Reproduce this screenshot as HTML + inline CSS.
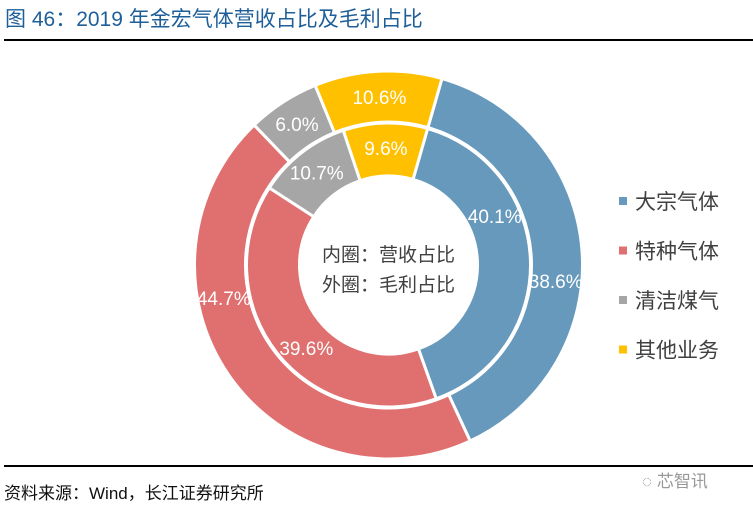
<!DOCTYPE html>
<html><head><meta charset="utf-8">
<style>
body{margin:0;background:#fff;width:753px;height:505px;overflow:hidden;position:relative;font-family:"Liberation Sans","Noto Sans CJK SC",sans-serif;}
.title{position:absolute;left:5px;top:3px;font-size:21px;color:#1f5f99;white-space:nowrap;}
.rule{position:absolute;left:4px;right:0;height:2px;background:#000;}
.src{position:absolute;left:4px;top:479px;font-size:17px;color:#111;white-space:nowrap;}
.wm{position:absolute;left:642px;top:467px;font-size:17px;color:#999;}
</style></head>
<body>
<div class="title">图 46：2019 年金宏气体营收占比及毛利占比</div>
<div class="rule" style="top:39px"></div>
<svg id="chart" width="753" height="505" style="position:absolute;left:0;top:0"></svg>
<div class="rule" style="top:465px"></div>
<div class="src">资料来源：Wind，长江证券研究所</div>
<div class="wm">◌ 芯智讯</div>
<script>
const categories = ["大宗气体","特种气体","清洁煤气","其他业务"];
const innerValues = [40.1, 39.6, 10.7, 9.6];
const outerValues = [38.6, 44.7, 6.0, 10.6];
const colors = ["#6699bb","#e07070","#a6a6a6","#ffc000"];
const innerShift=[-23,-7,0,0], outerShift=[10,23,0,0];
const NS="http://www.w3.org/2000/svg";
const svg=document.getElementById('chart');
const cx=388.5, cy=265, startDeg=16;
function pt(r,deg){const a=deg*Math.PI/180;return [cx+r*Math.sin(a), cy-r*Math.cos(a)];}
function ring(vals,r0,r1,name,labR,shift){
  const tot=vals.reduce((a,b)=>a+b,0);let ang=startDeg;
  vals.forEach((v,i)=>{
    const span=v/tot*360, a1=ang+span;
    const [x0,y0]=pt(r1,ang),[x1,y1]=pt(r1,a1),[x2,y2]=pt(r0,a1),[x3,y3]=pt(r0,ang);
    const lg=span>180?1:0;
    const p=document.createElementNS(NS,'path');
    p.setAttribute('d',`M${x0},${y0}A${r1},${r1} 0 ${lg} 1 ${x1},${y1}L${x2},${y2}A${r0},${r0} 0 ${lg} 0 ${x3},${y3}Z`);
    p.setAttribute('fill',colors[i]);p.setAttribute('stroke','#fff');p.setAttribute('stroke-width','3');
    
    
    svg.appendChild(p);
    const [lx,ly]=pt(labR,ang+span/2+shift[i]);
    const t=document.createElementNS(NS,'text');
    t.setAttribute('x',lx);t.setAttribute('y',ly+7);t.setAttribute('text-anchor','middle');
    t.setAttribute('fill','#fff');t.setAttribute('font-size','19');
    t.textContent=v.toFixed(1)+'%';
    
    
    svg.appendChild(t);
    ang=a1;
  });
}
ring(innerValues,89,142,'inner',117,innerShift);
ring(outerValues,143,194,'outer',168,outerShift);
[["内圈：营收占比",261],["外圈：毛利占比",291]].forEach((c,i)=>{
  const t=document.createElementNS(NS,'text');
  t.setAttribute('x',cx);t.setAttribute('y',c[1]);t.setAttribute('text-anchor','middle');
  t.setAttribute('fill','#404040');t.setAttribute('font-size','19');
  t.textContent=c[0];
  
  
  svg.appendChild(t);
});
categories.forEach((c,i)=>{
  const y=201+i*49.5;
  const r=document.createElementNS(NS,'rect');
  r.setAttribute('x',619);r.setAttribute('y',y-4);r.setAttribute('width',8);r.setAttribute('height',8);r.setAttribute('fill',colors[i]);
  
  
  svg.appendChild(r);
  const t=document.createElementNS(NS,'text');
  t.setAttribute('x',635);t.setAttribute('y',y+8);t.setAttribute('fill','#404040');t.setAttribute('font-size','21');
  t.textContent=c;
  
  
  svg.appendChild(t);
});
</script>
</body></html>
